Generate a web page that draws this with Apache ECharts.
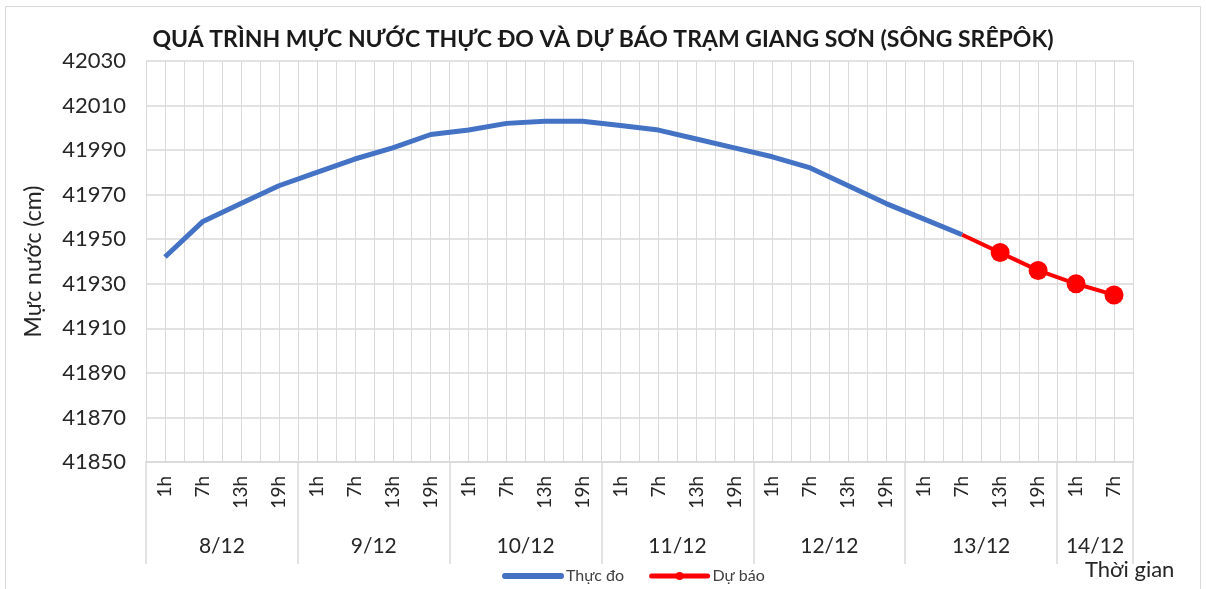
<!DOCTYPE html>
<html>
<head>
<meta charset="utf-8">
<script src="https://cdn.jsdelivr.net/npm/echarts@6/dist/echarts.min.js"></script>
<style>
  html, body { margin: 0; padding: 0; background: #fff; }
  #chart { width: 1206px; height: 589px; }
</style>
</head>
<body>
<div id="chart"></div>
<script>
var hours = ['1h', '7h', '13h', '19h', '1h', '7h', '13h', '19h', '1h', '7h', '13h', '19h',
  '1h', '7h', '13h', '19h', '1h', '7h', '13h', '19h', '1h', '7h', '13h', '19h', '1h', '7h'];
var dates = ['8/12', '9/12', '10/12', '11/12', '12/12', '13/12', '14/12'];
var dateSizes = [4, 4, 4, 4, 4, 4, 2];

// measured (Thực đo), 8/12 1h -> 13/12 7h
var measured = [41942, 41958, 41966, 41974, 41980, 41986, 41991, 41997,
  41999, 42002, 42003, 42003, 42001, 41999, 41995, 41991,
  41987, 41982, 41974, 41966, 41959, 41952];
// forecast (Dự báo), 13/12 7h -> 14/12 7h
var forecast = [41952, 41944, 41936, 41930, 41925];

var font = 'Lato, "Open Sans", sans-serif';
var textColor = '#262626';

// date group boundaries and centres on a 0..26 value scale
var bounds = [0];
var centres = [];
dateSizes.forEach(function (n) {
  var start = bounds[bounds.length - 1];
  centres.push(start + n / 2);
  bounds.push(start + n);
});

var measuredData = hours.map(function (h, i) {
  return i < measured.length ? measured[i] : '-';
});
var forecastStart = measured.length - 1;
var forecastData = hours.map(function (h, i) {
  var k = i - forecastStart;
  if (k < 0 || k >= forecast.length) return '-';
  if (k === 0) return { value: forecast[k], symbol: 'none' };
  return forecast[k];
});

var chart = echarts.init(document.getElementById('chart'));
chart.setOption({
  backgroundColor: '#fff',
  animation: false,
  textStyle: { fontFamily: font },
  title: {
    text: 'QUÁ TRÌNH MỰC NƯỚC THỰC ĐO VÀ DỰ BÁO TRẠM GIANG SƠN (SÔNG SRÊPÔK)',
    left: 'center',
    top: 23,
    textStyle: { fontFamily: font, fontSize: 23, fontWeight: 'bold', color: '#1a1a1a' }
  },
  grid: { left: 146, right: 73, top: 61, bottom: 127 },
  legend: {
    left: 497,
    top: 563,
    itemWidth: 56,
    itemHeight: 10,
    itemGap: 25,
    textStyle: { fontFamily: font, fontSize: 16, color: '#404040' },
    data: [
      { name: 'Thực đo', itemStyle: { opacity: 0 }, lineStyle: { width: 6, cap: 'round' } },
      { name: 'Dự báo', lineStyle: { width: 5, cap: 'round' } }
    ]
  },
  graphic: [
    {
      type: 'rect',
      shape: { x: 5.5, y: 6.5, width: 1195, height: 600 },
      style: { fill: 'none', stroke: '#d9d9d9', lineWidth: 1 },
      silent: true
    },
    {
      type: 'text',
      left: 1085,
      top: 559,
      style: { text: 'Thời gian', fontFamily: font, fontSize: 22, fill: textColor }
    }
  ],
  xAxis: [
    {
      type: 'category',
      position: 'bottom',
      data: hours,
      axisLine: { lineStyle: { color: '#d9d9d9', width: 1.5 } },
      axisTick: { show: false },
      axisLabel: {
        interval: 0,
        rotate: 90,
        margin: 14,
        fontSize: 19,
        color: textColor,
        fontFamily: font
      },
      splitLine: { show: false }
    },
    {
      type: 'value',
      position: 'bottom',
      min: 0,
      max: 26,
      axisLine: { show: false },
      axisTick: {
        show: true,
        customValues: bounds,
        length: 102,
        lineStyle: { color: '#d9d9d9', width: 1.5 }
      },
      axisLabel: {
        customValues: centres,
        margin: 74,
        fontSize: 21,
        color: textColor,
        fontFamily: font,
        formatter: function (v) {
          var i = centres.indexOf(v);
          return i >= 0 ? dates[i] : '';
        }
      },
      splitLine: { show: false }
    },
    {
      type: 'value',
      position: 'top',
      min: 0,
      max: 26,
      interval: 0.5,
      axisLine: { show: false },
      axisTick: { show: false },
      axisLabel: { show: false },
      splitLine: { show: true, lineStyle: { color: '#d9d9d9', width: 1 } }
    }
  ],
  yAxis: {
    type: 'value',
    min: 41850,
    max: 42030,
    interval: 20,
    name: 'Mực nước (cm)',
    nameLocation: 'middle',
    nameGap: 101,
    nameTextStyle: { fontFamily: font, fontSize: 23, color: textColor },
    axisLine: { show: false },
    axisTick: { show: false },
    axisLabel: {
      fontSize: 22,
      color: textColor,
      margin: 20,
      fontFamily: font,
      formatter: function (v) { return String(v); }
    },
    splitLine: { lineStyle: { color: '#d9d9d9', width: 1.5 } }
  },
  series: [
    {
      name: 'Thực đo',
      type: 'line',
      xAxisIndex: 0,
      data: measuredData,
      symbol: 'none',
      lineStyle: { color: '#4472c4', width: 5 },
      itemStyle: { color: '#4472c4' },
      z: 3
    },
    {
      name: 'Dự báo',
      type: 'line',
      xAxisIndex: 0,
      data: forecastData,
      symbol: 'circle',
      symbolSize: 19,
      lineStyle: { color: '#ff0000', width: 4 },
      itemStyle: { color: '#ff0000' },
      z: 4
    }
  ]
});
</script>
</body>
</html>
